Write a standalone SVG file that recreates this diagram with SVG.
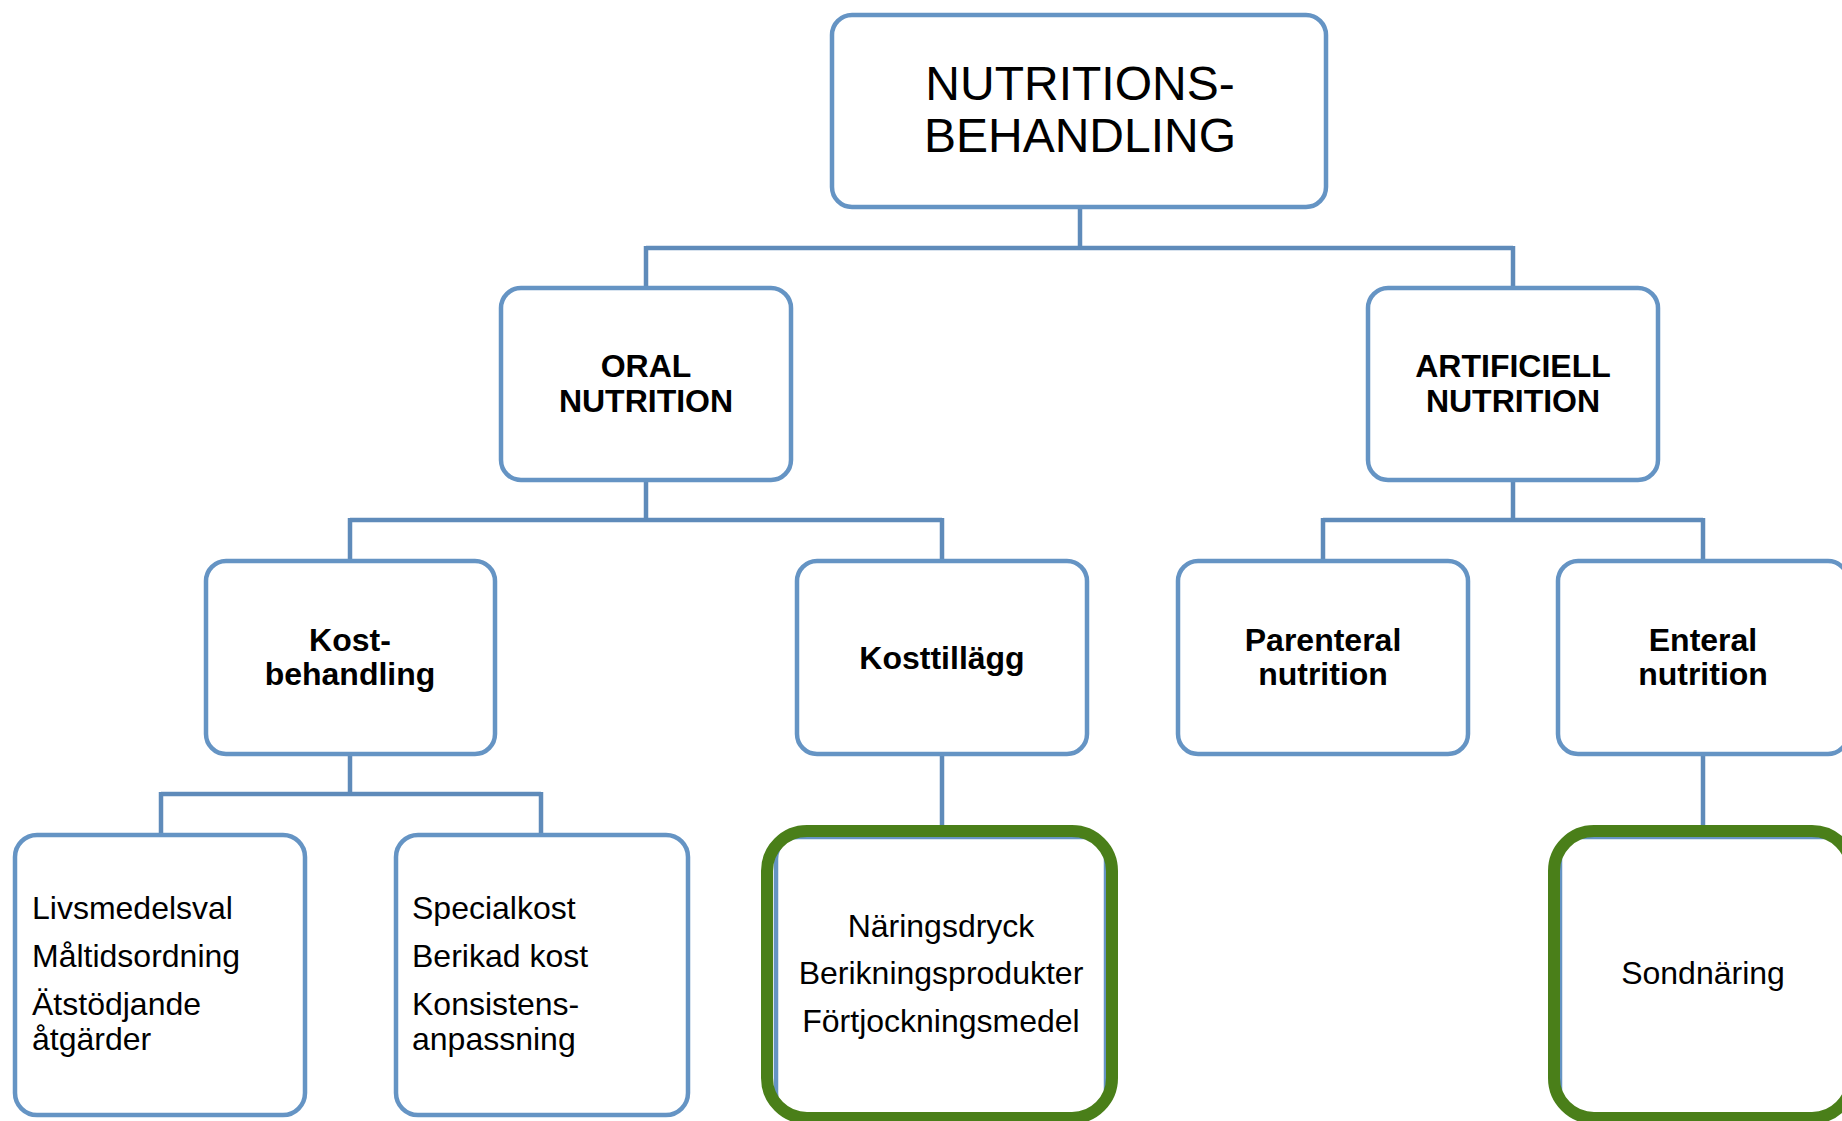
<svg xmlns="http://www.w3.org/2000/svg" width="1842" height="1121" viewBox="0 0 1842 1121">
<style>
.box{fill:#ffffff;stroke:#6594c4;stroke-width:4.5}
.gbox{fill:none;stroke:#4a7f19;stroke-width:12}
.conn{stroke:#5f8bba;stroke-width:4.5;fill:none}
text{font-family:"Liberation Sans",Arial,Helvetica,sans-serif;fill:#000}
.title{font-size:48px;text-anchor:middle}
.bold{font-size:32px;font-weight:bold;text-anchor:middle}
.reg{font-size:32px}
.regc{font-size:32px;text-anchor:middle}
</style>
<rect width="1842" height="1121" fill="#ffffff"/>
<g id="connectors">
<path class="conn" d="M1080 207V248M646 248H1513M646 246V288M1513 246V288"/>
<path class="conn" d="M646 480V520M350 520H942M350 518V561M942 518V561"/>
<path class="conn" d="M1513 480V520M1323 520H1703M1323 518V561M1703 518V561"/>
<path class="conn" d="M350 754V794M161 794H541M161 792V835M541 792V835"/>
<path class="conn" d="M942 754V831"/>
<path class="conn" d="M1703 754V831"/>
</g>
<g id="node-nutritionsbehandling">
<rect class="box" x="832" y="15" width="494" height="192" rx="20"/>
<text class="title" x="1080" y="100">NUTRITIONS-</text>
<text class="title" x="1080" y="152">BEHANDLING</text>
</g>
<g id="node-oral">
<rect class="box" x="501" y="288" width="290" height="192" rx="20"/>
<text class="bold" x="646" y="377">ORAL</text>
<text class="bold" x="646" y="412">NUTRITION</text>
</g>
<g id="node-artificiell">
<rect class="box" x="1368" y="288" width="290" height="192" rx="20"/>
<text class="bold" x="1513" y="377">ARTIFICIELL</text>
<text class="bold" x="1513" y="412">NUTRITION</text>
</g>
<g id="node-kostbehandling">
<rect class="box" x="206" y="561" width="289" height="193" rx="20"/>
<text class="bold" x="350" y="651">Kost-</text>
<text class="bold" x="350" y="685">behandling</text>
</g>
<g id="node-kosttillagg">
<rect class="box" x="797" y="561" width="290" height="193" rx="20"/>
<text class="bold" x="942" y="669">Kosttillägg</text>
</g>
<g id="node-parenteral">
<rect class="box" x="1178" y="561" width="290" height="193" rx="20"/>
<text class="bold" x="1323" y="651">Parenteral</text>
<text class="bold" x="1323" y="685">nutrition</text>
</g>
<g id="node-enteral">
<rect class="box" x="1558" y="561" width="290" height="193" rx="20"/>
<text class="bold" x="1703" y="651">Enteral</text>
<text class="bold" x="1703" y="685">nutrition</text>
</g>
<g id="node-livsmedelsval">
<rect class="box" x="15" y="835" width="290" height="280" rx="22"/>
<text class="reg" x="32" y="919">Livsmedelsval</text>
<text class="reg" x="32" y="967">Måltidsordning</text>
<text class="reg" x="32" y="1015">Ätstödjande</text>
<text class="reg" x="32" y="1050">åtgärder</text>
</g>
<g id="node-specialkost">
<rect class="box" x="396" y="835" width="292" height="280" rx="22"/>
<text class="reg" x="412" y="919">Specialkost</text>
<text class="reg" x="412" y="967">Berikad kost</text>
<text class="reg" x="412" y="1015">Konsistens-</text>
<text class="reg" x="412" y="1050">anpassning</text>
</g>
<g id="node-naringsdryck">
<rect class="box" x="776" y="837" width="330" height="278" rx="22"/>
<rect class="gbox" x="767" y="831" width="345" height="287" rx="40"/>
<text class="regc" x="941" y="937">Näringsdryck</text>
<text class="regc" x="941" y="984">Berikningsprodukter</text>
<text class="regc" x="941" y="1032">Förtjockningsmedel</text>
</g>
<g id="node-sondnaring">
<rect class="box" x="1560" y="837" width="286" height="278" rx="22"/>
<rect class="gbox" x="1554" y="831" width="298" height="287" rx="40"/>
<text class="regc" x="1703" y="984">Sondnäring</text>
</g>
</svg>
